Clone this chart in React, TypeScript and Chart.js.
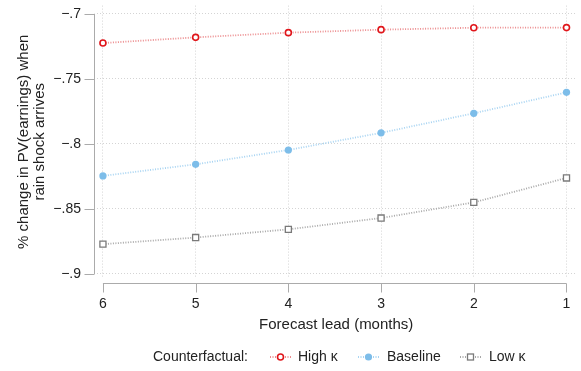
import React, { useEffect, useRef } from "react";
import { Chart, registerables } from "chart.js";

Chart.register(...registerables);

const leads = [6, 5, 4, 3, 2, 1];
const highK = [-0.7225, -0.7181, -0.7145, -0.7122, -0.7107, -0.7106];
const baseline = [-0.8246, -0.8157, -0.8047, -0.7915, -0.7765, -0.7604];
const lowK = [-0.8771, -0.872, -0.8657, -0.857, -0.845, -0.8262];

const yTicks = [-0.7, -0.75, -0.8, -0.85, -0.9];
const yTickLabels = ["\u2212.7", "\u2212.75", "\u2212.8", "\u2212.85", "\u2212.9"];
const xTicks = [6, 5, 4, 3, 2, 1];
const xTickLabels = ["6", "5", "4", "3", "2", "1"];

const seriesNames = ["High \u03ba", "Baseline", "Low \u03ba"];
const FONT = "'Liberation Sans', Arial, Helvetica, sans-serif";

const RED = "#e0161b";
const RED_LINE = "#ec8c8e";
const BLUE = "#7dbde9";
const BLUE_LINE = "#a8d4f2";
const GREY = "#7a7a7a";
const GREY_LINE = "#a8a8a8";

function drawMarker(ctx: CanvasRenderingContext2D, kind: number, x: number, y: number) {
  ctx.save();
  ctx.setLineDash([]);
  if (kind === 0) {
    ctx.beginPath();
    ctx.arc(x, y, 3, 0, Math.PI * 2);
    ctx.fillStyle = "#fff";
    ctx.fill();
    ctx.lineWidth = 1.6;
    ctx.strokeStyle = RED;
    ctx.stroke();
  } else if (kind === 1) {
    ctx.beginPath();
    ctx.arc(x, y, 3.6, 0, Math.PI * 2);
    ctx.fillStyle = BLUE;
    ctx.fill();
  } else {
    ctx.fillStyle = "#fff";
    ctx.fillRect(x - 3, y - 3, 6, 6);
    ctx.lineWidth = 1.3;
    ctx.strokeStyle = GREY;
    ctx.strokeRect(x - 3, y - 3, 6, 6);
  }
  ctx.restore();
}

const axesPlugin = {
  id: "stataAxes",
  afterDraw(chart: any) {
    const { ctx, scales, chartArea } = chart;
    const xs = scales.x;
    const ys = scales.y;
    ctx.save();
    ctx.strokeStyle = "#ababab";
    ctx.lineWidth = 1;
    ctx.setLineDash([]);
    const ax = Math.round(chartArea.left - 3.5) + 0.5;
    const yTop = ys.getPixelForValue(yTicks[0]);
    const yBot = ys.getPixelForValue(yTicks[yTicks.length - 1]);
    ctx.beginPath();
    ctx.moveTo(ax, yTop);
    ctx.lineTo(ax, yBot);
    yTicks.forEach((v) => {
      const py = Math.round(ys.getPixelForValue(v)) + 0.5;
      ctx.moveTo(ax - 10, py);
      ctx.lineTo(ax, py);
    });
    const ay = Math.round(chartArea.bottom + 5) + 0.5;
    const xL = xs.getPixelForValue(xTicks[0]);
    const xR = xs.getPixelForValue(xTicks[xTicks.length - 1]);
    ctx.moveTo(xL, ay);
    ctx.lineTo(xR, ay);
    xTicks.forEach((v) => {
      const px = Math.round(xs.getPixelForValue(v)) + 0.5;
      ctx.moveTo(px, ay);
      ctx.lineTo(px, ay + 9);
    });
    ctx.stroke();

    // legend
    const ly = 357;
    ctx.font = `14px ${FONT}`;
    ctx.fillStyle = "#222";
    ctx.textBaseline = "middle";
    ctx.textAlign = "left";
    ctx.fillText("Counterfactual:", 153, ly);
    const symX = [270, 358, 460];
    const txtX = [298, 387, 489];
    const lineCols = [RED_LINE, BLUE_LINE, GREY_LINE];
    for (let i = 0; i < 3; i++) {
      ctx.save();
      ctx.strokeStyle = lineCols[i];
      ctx.lineWidth = 1.8;
      ctx.setLineDash([1, 1.5]);
      ctx.beginPath();
      ctx.moveTo(symX[i], ly);
      ctx.lineTo(symX[i] + 21, ly);
      ctx.stroke();
      ctx.restore();
      drawMarker(ctx, i, symX[i] + 10.5, ly);
      ctx.fillStyle = "#222";
      ctx.fillText(seriesNames[i], txtX[i], ly);
    }
    ctx.restore();
  },
};

export default function App() {
  const ref = useRef<HTMLCanvasElement | null>(null);
  useEffect(() => {
    document.body.style.margin = "0";
    const toPts = (arr: number[]) => leads.map((l, i) => ({ x: l, y: arr[i] }));
    const chart = new Chart(ref.current as HTMLCanvasElement, {
      type: "line",
      data: {
        datasets: [
          {
            label: seriesNames[0],
            data: toPts(highK),
            borderColor: RED_LINE,
            borderWidth: 1.8,
            borderDash: [1, 1.5],
            pointStyle: "circle",
            pointRadius: 3,
            pointBorderWidth: 1.6,
            pointBorderColor: RED,
            pointBackgroundColor: "#fff",
            tension: 0,
          },
          {
            label: seriesNames[1],
            data: toPts(baseline),
            borderColor: BLUE_LINE,
            borderWidth: 1.8,
            borderDash: [1, 1.5],
            pointStyle: "circle",
            pointRadius: 3.6,
            pointBorderWidth: 0,
            pointBorderColor: BLUE,
            pointBackgroundColor: BLUE,
            tension: 0,
          },
          {
            label: seriesNames[2],
            data: toPts(lowK),
            borderColor: GREY_LINE,
            borderWidth: 1.8,
            borderDash: [1, 1.5],
            pointStyle: "rect",
            pointRadius: 4.3,
            pointBorderWidth: 1.3,
            pointBorderColor: GREY,
            pointBackgroundColor: "#fff",
            tension: 0,
          },
        ],
      },
      options: {
        animation: false,
        responsive: true,
        maintainAspectRatio: false,
        layout: { padding: { left: 0, right: 3, top: 4, bottom: 0 } },
        plugins: { legend: { display: false }, tooltip: { enabled: false } },
        scales: {
          x: {
            type: "linear",
            reverse: true,
            min: 0.904,
            max: 6.064,
            afterFit: (s: any) => {
              s.height = 93;
              s.paddingLeft = 0;
              s.paddingRight = 0;
              s.paddingTop = 0;
              s.paddingBottom = 0;
            },
            afterBuildTicks: (s: any) => {
              s.ticks = xTicks.map((v) => ({ value: v }));
            },
            grid: { color: "#d4d4d4", lineWidth: 1, drawTicks: false },
            border: { display: false, dash: [1, 2] },
            ticks: {
              padding: 18,
              color: "#222",
              font: { family: FONT, size: 14 },
              maxRotation: 0,
              callback: (_v: any, i: number) => xTickLabels[i],
            },
            title: {
              display: true,
              text: "Forecast lead (months)",
              color: "#222",
              font: { family: FONT, size: 15, lineHeight: 1.2 },
              padding: { top: 0, bottom: 37 },
            },
          },
          y: {
            type: "linear",
            min: -0.9031,
            max: -0.6937,
            afterFit: (s: any) => {
              s.width = 97;
              s.paddingLeft = 0;
              s.paddingRight = 0;
              s.paddingTop = 0;
              s.paddingBottom = 0;
            },
            afterBuildTicks: (s: any) => {
              s.ticks = yTicks.map((v) => ({ value: v }));
            },
            grid: { color: "#d4d4d4", lineWidth: 1, drawTicks: false },
            border: { display: false, dash: [1, 2] },
            ticks: {
              padding: 16,
              color: "#222",
              font: { family: FONT, size: 14 },
              callback: (_v: any, i: number) => yTickLabels[i],
            },
            title: {
              display: true,
              text: ["% change in PV(earnings) when", "rain shock arrives"],
              color: "#222",
              font: { family: FONT, size: 15, lineHeight: 1.05 },
              padding: { top: 16, bottom: 0 },
            },
          },
        },
      },
      plugins: [axesPlugin],
    });
    return () => chart.destroy();
  }, []);
  return (
    <div style={{ position: "absolute", left: 0, top: 0, width: 581, height: 371 }}>
      <canvas ref={ref} />
    </div>
  );
}
